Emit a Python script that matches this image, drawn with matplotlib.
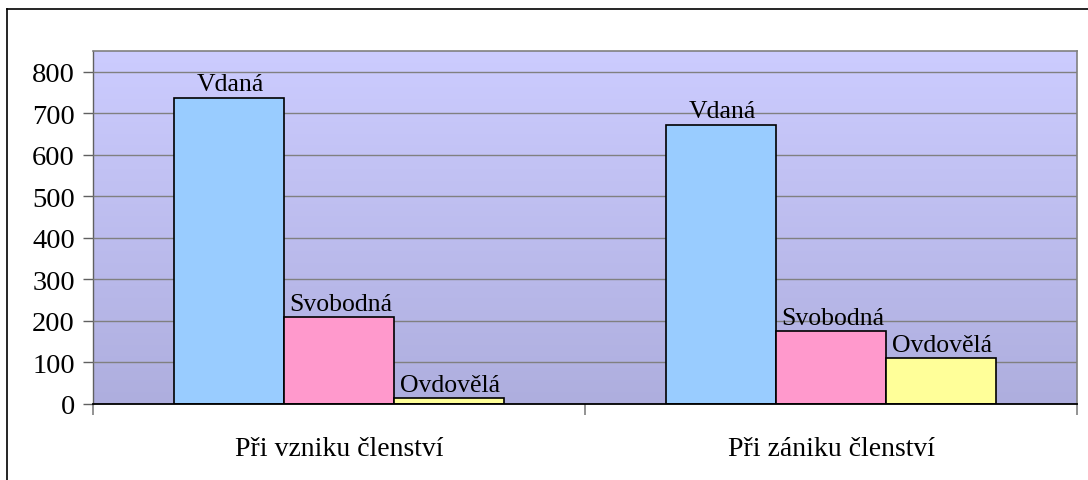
import numpy as np
import matplotlib
matplotlib.use("Agg")
import matplotlib.pyplot as plt
from matplotlib.lines import Line2D

categories = ["Při vzniku členství", "Při zániku členství"]
series_names = ["Vdaná", "Svobodná", "Ovdovělá"]
vdana = [738, 673]
svobodna = [210, 176]
ovdovela = [15, 111]
yticks = [0, 100, 200, 300, 400, 500, 600, 700, 800]

colors = ["#99ccff", "#ff99cc", "#ffff99"]

plt.rcParams['font.family'] = ['Liberation Serif', 'DejaVu Serif']

fig = plt.figure(figsize=(10.88, 4.81), dpi=100)
ax = fig.add_axes([93/1088, 1-405/481, (1077-93)/1088, (405-52)/481])

# gradient background
top = np.array([204, 204, 255]) / 255
bot = np.array([174, 174, 222]) / 255
t = np.linspace(0, 1, 256)[:, None]
grad = (top[None, :] * (1 - t) + bot[None, :] * t)[:, None, :]
ax.imshow(grad, extent=[0, 1, 0, 1], transform=ax.transAxes, aspect='auto', zorder=0)

x = np.arange(len(categories))
w = 0.223
all_series = [vdana, svobodna, ovdovela]
for i, (name, vals) in enumerate(zip(series_names, all_series)):
    pos = x + (i - 1) * w
    bars = ax.bar(pos, vals, width=w, color=colors[i], edgecolor='black', linewidth=1.2, zorder=3)
    for b, v in zip(bars, vals):
        ax.annotate(name, (b.get_x() + b.get_width()/2, v), xytext=(1, 1.5),
                    textcoords='offset points', ha='center', va='bottom', fontsize=18.5, zorder=4)

ax.set_xlim(-0.5, 1.5)
ax.set_ylim(0, 850)
ax.set_yticks(yticks)
ax.set_yticklabels([str(v) for v in yticks], fontsize=20.5)
ax.yaxis.grid(True, color='#808080', linewidth=1.0, zorder=1)
ax.set_axisbelow(False)
ax.tick_params(axis='y', length=7, width=1, color='#606060', pad=6)

ax.set_xticks([-0.5, 0.5, 1.5])
ax.set_xticklabels([])
ax.tick_params(axis='x', which='major', length=8, width=1.2, color='#808080', direction='out')
ax.set_xticks(x, minor=True)
ax.set_xticklabels(categories, minor=True, fontsize=20)
ax.tick_params(axis='x', which='minor', length=0, pad=23)

for s in ['top', 'right']:
    ax.spines[s].set_color('#808080')
    ax.spines[s].set_linewidth(1.2)
ax.spines['left'].set_color('#606060')
ax.spines['left'].set_linewidth(1.0)
ax.spines['bottom'].set_color('black')
ax.spines['bottom'].set_linewidth(1.3)
ax.spines['bottom'].set_zorder(5)

# figure border (left and top)
bx = 7/1088
by = 1 - 10/481
fig.add_artist(Line2D([bx, bx], [0, by], color='black', linewidth=1.2, transform=fig.transFigure))
fig.add_artist(Line2D([bx, 1], [by, by], color='black', linewidth=1.2, transform=fig.transFigure))

fig.savefig("out.png", dpi=100)
